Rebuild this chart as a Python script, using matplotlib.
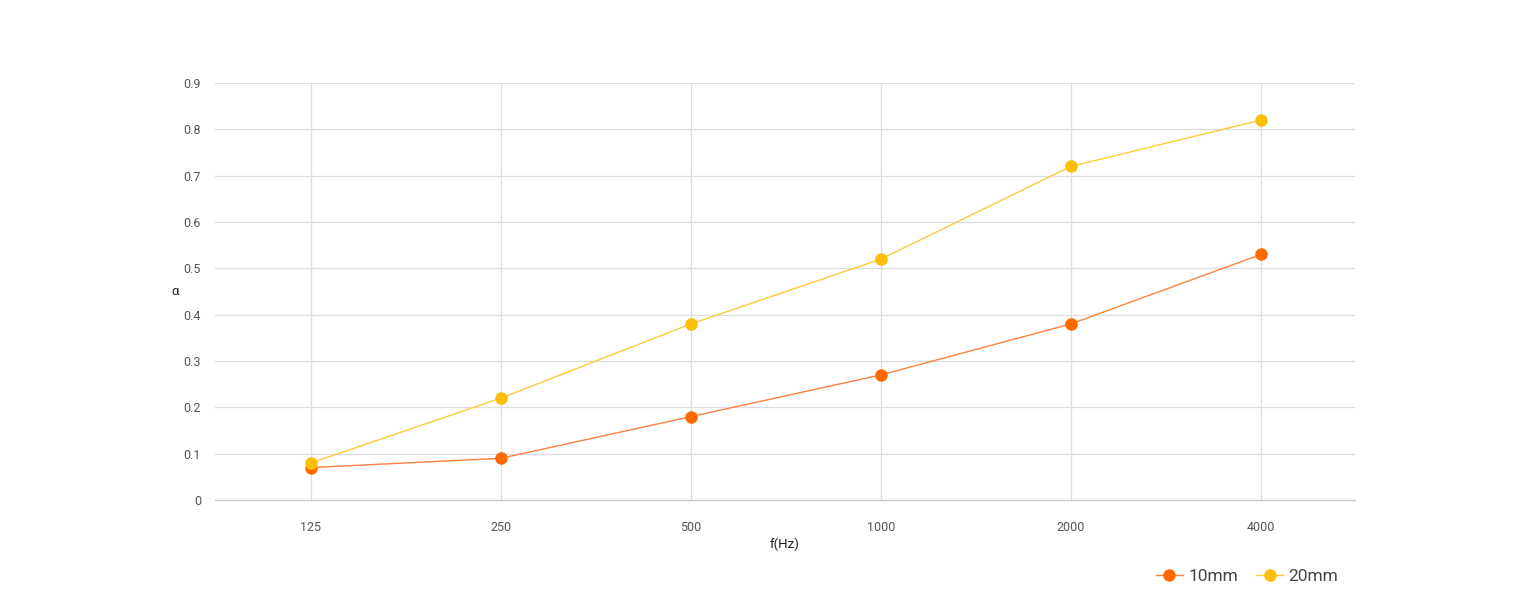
import matplotlib
matplotlib.use("Agg")
import matplotlib.pyplot as plt
from matplotlib.lines import Line2D

categories = ["125", "250", "500", "1000", "2000", "4000"]
s10 = [0.07, 0.09, 0.18, 0.27, 0.38, 0.53]
s20 = [0.08, 0.22, 0.38, 0.52, 0.72, 0.82]
yticks = [0, 0.1, 0.2, 0.3, 0.4, 0.5, 0.6, 0.7, 0.8, 0.9]
ytick_labels = ["0", "0.1", "0.2", "0.3", "0.4", "0.5", "0.6", "0.7", "0.8", "0.9"]

plt.rcParams['font.family'] = ['Roboto', 'DejaVu Sans']

c10 = "#FF6A00"
c20 = "#FBBE0A"
l10 = "#FF8040"
l20 = "#FCCB3A"

fig = plt.figure(figsize=(15.2, 5.94), dpi=100)
ax = fig.add_axes([215/1520, 94/594, 1140/1520, 417/594])
x = list(range(len(categories)))
ax.plot(x, s10, color=l10, lw=1.0, zorder=3)
ax.plot(x, s10, ls='none', marker='o', ms=8, mec=c10, mfc=c10, zorder=3)
ax.plot(x, s20, color=l20, lw=1.0, zorder=4)
ax.plot(x, s20, ls='none', marker='o', ms=8, mec=c20, mfc=c20, zorder=4)

ax.set_xlim(-0.505, 5.495)
ax.set_ylim(0, 0.9)
ax.set_xticks(x)
ax.set_xticklabels(categories)
ax.set_yticks(yticks)
ax.set_yticklabels(ytick_labels)
ax.grid(True, color="#dddddd", lw=0.9)
ax.set_axisbelow(True)
for s in ['top', 'right', 'left']:
    ax.spines[s].set_visible(False)
ax.spines['bottom'].set_color("#cccccc")
ax.spines['bottom'].set_linewidth(1.0)
ax.tick_params(axis='both', length=0, labelsize=9, colors="#555555")
ax.tick_params(axis='x', pad=15)
ax.tick_params(axis='y', pad=10)

ax.set_xlabel("f(Hz)", fontsize=9.5, color="#222222", labelpad=3)
ax.set_ylabel("α", fontsize=9.5, color="#222222", rotation=0, labelpad=6, va='center')

handles = [Line2D([0], [0], color=l10, lw=1.0, marker='o', ms=8, mec=c10, mfc=c10),
           Line2D([0], [0], color=l20, lw=1.0, marker='o', ms=8, mec=c20, mfc=c20)]
fig.legend(handles, ["10mm", "20mm"], loc='lower right', bbox_to_anchor=(1354/1520, -6/594),
           ncol=2, frameon=False, fontsize=12.5, handlelength=1.6, handletextpad=0.3,
           columnspacing=1.0, labelcolor="#444444")

fig.savefig("out.png", dpi=100, facecolor="white")
